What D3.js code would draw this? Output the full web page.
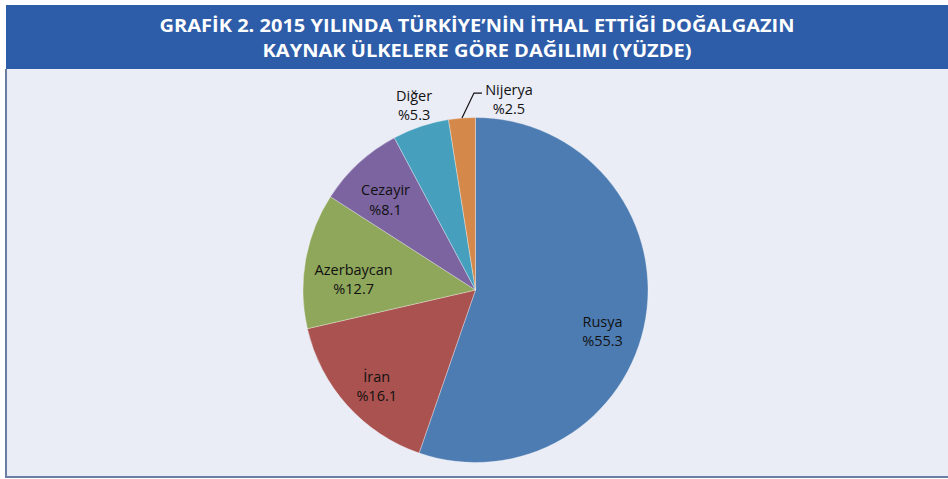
<!DOCTYPE html>
<html>
<head>
<meta charset="utf-8">
<script src="https://cdn.jsdelivr.net/npm/d3@7"></script>
<style>
  body { margin: 0; background: #fff; }
  svg { display: block; }
</style>
</head>
<body>
<div id="chart-container"></div>
<script>
let width = 948;
let height = 479;

// data
const categories = ["Rusya", "İran", "Azerbaycan", "Cezayir", "Diğer", "Nijerya"];
const shares = [55.3, 16.1, 12.7, 8.1, 5.3, 2.5];
const colors = ["#4d7cb2", "#aa524f", "#8fa75b", "#7b64a0", "#46a0bd", "#d4894a"];
const titleLines = [
    "GRAFİK 2. 2015 YILINDA TÜRKİYE’NİN İTHAL ETTİĞİ DOĞALGAZIN",
    "KAYNAK ÜLKELERE GÖRE DAĞILIMI (YÜZDE)"
];

const chartData = categories.map((name, i) => ({ name, value: shares[i], color: colors[i] }));

const cx = 475.5, cy = 290, radius = 172.5;

const svg = d3.select("#chart-container")
    .append("svg")
    .attr("width", width)
    .attr("height", height);

// plot background + frame
svg.append("rect")
    .attr("x", 6).attr("y", 69)
    .attr("width", width - 6).attr("height", 408)
    .attr("fill", "#eaecf6");
svg.append("path")
    .attr("d", `M6,69 V477 H${width}`)
    .attr("fill", "none")
    .attr("stroke", "#6a7ea3")
    .attr("stroke-width", 2);

// title bar
svg.append("rect")
    .attr("x", 6).attr("y", 5)
    .attr("width", width - 6).attr("height", 64)
    .attr("fill", "#2d5ca8");

const titleWidths = [635, 429];
svg.append("g")
    .selectAll("text")
    .data(titleLines)
    .join("text")
    .attr("x", 477)
    .attr("y", (d, i) => 32 + i * 25)
    .attr("text-anchor", "middle")
    .attr("fill", "#fff")
    .attr("font-family", "Open Sans, sans-serif")
    .attr("font-weight", "bold")
    .attr("font-size", 17)
    .attr("textLength", (d, i) => titleWidths[i])
    .attr("lengthAdjust", "spacingAndGlyphs")
    .text(d => d);

// pie
const pie = d3.pie().sort(null).value(d => d.value);
const arcs = pie(chartData);
const arc = d3.arc().innerRadius(0).outerRadius(radius);

const g = svg.append("g").attr("transform", `translate(${cx},${cy})`);

g.selectAll("path")
    .data(arcs)
    .join("path")
    .attr("d", arc)
    .attr("fill", d => d.data.color)
    .attr("stroke", "rgba(255,255,255,0.45)")
    .attr("stroke-width", 0.7);

// label placement
const insideArc = d3.arc().innerRadius(radius * 0.77).outerRadius(radius * 0.77);
const outsideArc = d3.arc().innerRadius(radius * 1.12).outerRadius(radius * 1.12);
const edgeArc = d3.arc().innerRadius(radius).outerRadius(radius);
const nudge = { "Rusya": [-4, 12], "Azerbaycan": [9, 5] };

const labelStyle = t => t
    .attr("font-family", "Open Sans, sans-serif")
    .attr("font-size", 14.5)
    .attr("fill", "#111");

function addLabel(x, y, anchor, d) {
    const t = g.append("text")
        .attr("x", x).attr("y", y)
        .attr("text-anchor", anchor)
        .call(labelStyle);
    t.append("tspan").attr("x", x).attr("dy", "0.2em").text(d.data.name);
    t.append("tspan").attr("x", x).attr("dy", "1.33em").text("%" + d.data.value);
}

arcs.forEach(d => {
    const frac = d.data.value / 100;
    if (frac > 0.06) {
        const [x, y] = insideArc.centroid(d);
        const [nx, ny] = nudge[d.data.name] || [0, 0];
        addLabel(x + nx, y + ny, "middle", d);
    } else if (frac > 0.04) {
        const [x, y] = outsideArc.centroid(d);
        addLabel(x, y - 9, "middle", d);
    } else {
        // leader line label
        const [sx, sy] = edgeArc.centroid(d);
        const ex = sx + 12, ey = sy - 25;
        g.append("path")
            .attr("d", `M${sx},${sy} L${ex},${ey} H${ex + 8}`)
            .attr("fill", "none")
            .attr("stroke", "#111")
            .attr("stroke-width", 1.2);
        addLabel(ex + 35, ey - 1, "middle", d);
    }
});
</script>
</body>
</html>
